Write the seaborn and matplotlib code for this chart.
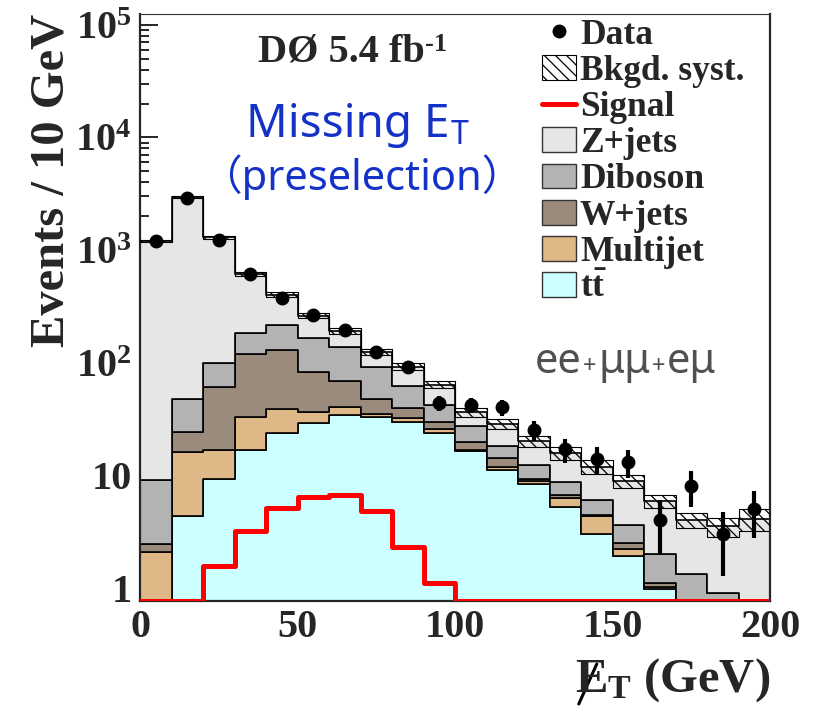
import numpy as np
import pandas as pd
import matplotlib
matplotlib.use('Agg')
import matplotlib.pyplot as plt
from matplotlib.patches import Patch
from matplotlib.lines import Line2D
import seaborn as sns

# binning (GeV) and yields per 10 GeV bin
met_edges = list(range(0, 210, 10))
processes = ['Z+jets', 'Diboson', 'W+jets', 'Multijet', 'ttbar']

zjets = [1200, 2900, 1200, 426, 187, 94, 55, 33, 30, 21.5,
         8.7, 10.3, 7.7, 7.0, 5.8, 5.2, 3.9, 2.7, 2.6, 4.1]
diboson = [6.6, 22.7, 38.6, 65, 85, 83, 67.5, 43.6, 22.4, 12.1,
           7.5, 4.0, 2.95, 2.1, 1.65, 1.1, 0.9, 1.32, 0.89, 0]
wjets = [0.4, 8.2, 44.3, 86.4, 90, 46.8, 28, 12.1, 7.7, 4.2,
         3.1, 2.2, 0.5, 0.4, 0.1, 0.3, 0.07, 0, 0, 0]
multijet = [2.06, 11.8, 7.5, 15.9, 15.2, 7.2, 6.3, 1.9, 2.5, 2.1,
            0.3, 0.7, 0.4, 1.0, 1.3, 0.3, 0.04, 0, 0, 0]
ttbar = [0, 4.3, 9.2, 16.7, 23.8, 28.8, 34.2, 33.0, 29.4, 23.5,
         16.4, 11.2, 8.4, 5.2, 3.0, 1.9, 0.98, 0, 0, 0]
signal = [0, 0, 1.55, 3.2, 5.1, 6.4, 6.7, 4.8, 2.3, 1.1,
          0, 0, 0, 0, 0, 0, 0, 0, 0, 0]
data_counts = [1200, 2920, 1230, 614, 376, 262, 195, 124, 91, 44,
               42, 40, 25, 17, 14, 13, 4, 8, 3, 5]
syst_frac = [0.02, 0.02, 0.03, 0.04, 0.05, 0.05, 0.06, 0.06, 0.07, 0.07,
             0.09, 0.10, 0.11, 0.13, 0.14, 0.13, 0.14, 0.15, 0.19, 0.22]

ytick_vals = [1, 10, 1e2, 1e3, 1e4, 1e5]
ytick_labels = ['1', '10', r'$\mathdefault{10^{2}}$', r'$\mathdefault{10^{3}}$',
                r'$\mathdefault{10^{4}}$', r'$\mathdefault{10^{5}}$']

colors = {'Z+jets': '#e6e6e6', 'Diboson': '#b3b3b3', 'W+jets': '#9b8b7c',
          'Multijet': '#deb887', 'ttbar': '#ccffff'}

sns.set_theme(style='ticks')
plt.rcParams['font.family'] = ['Liberation Serif', 'DejaVu Serif']
plt.rcParams['font.weight'] = 'bold'
plt.rcParams['axes.labelweight'] = 'bold'
plt.rcParams['mathtext.fontset'] = 'custom'
plt.rcParams['mathtext.rm'] = 'Liberation Serif:bold'
plt.rcParams['mathtext.it'] = 'Liberation Serif:bold'
plt.rcParams['mathtext.bf'] = 'Liberation Serif:bold'
plt.rcParams['hatch.linewidth'] = 0.9

edges = np.array(met_edges)
centers = edges[:-1] + 5
yields = {'Z+jets': zjets, 'Diboson': diboson, 'W+jets': wjets,
          'Multijet': multijet, 'ttbar': ttbar}
df = pd.concat([pd.DataFrame({'met': centers, 'events': yields[p], 'process': p})
                for p in processes], ignore_index=True)

ymin, ymax = 0.76, 1.25e5
W, H = 816, 707

fig = plt.figure(figsize=(W / 100, H / 100), dpi=100)
ax = fig.add_axes([140/W, 106/H, 630/W, 587/H])

# stacked backgrounds (last hue level ends up at the bottom)
sns.histplot(data=df, x='met', weights='events', hue='process', hue_order=processes,
             bins=met_edges, multiple='stack', element='step', fill=True,
             palette=colors, alpha=1, edgecolor='black', linewidth=1.2,
             legend=False, ax=ax)

# systematic band around the total
total = np.sum([yields[p] for p in processes], axis=0)
lo = np.append(total * (1 - np.array(syst_frac)), total[-1] * (1 - syst_frac[-1]))
hi = np.append(total * (1 + np.array(syst_frac)), total[-1] * (1 + syst_frac[-1]))
ax.fill_between(edges, lo, hi, step='post', facecolor='none',
                edgecolor='black', hatch='\\\\\\', linewidth=0.8, zorder=3)

# signal, clamped to the frame like ROOT does
sig_df = pd.DataFrame({'met': centers, 'events': np.clip(signal, ymin, None)})
sns.histplot(data=sig_df, x='met', weights='events', bins=met_edges, element='step',
             fill=False, color='red', linewidth=3.6, ax=ax, zorder=4)

# data
ax.errorbar(centers, data_counts, yerr=np.sqrt(data_counts), fmt='o',
            color='black', markersize=9, elinewidth=3, capsize=0, zorder=5)

ax.set_yscale('log')
ax.set_xlim(0, 200)
ax.set_ylim(ymin, ymax)
ax.set_yticks(ytick_vals)
ax.set_yticklabels(ytick_labels)
ax.set_xticks([0, 50, 100, 150, 200])
ax.set_xticks(np.arange(0, 201, 10), minor=True)
ax.tick_params(axis='both', which='both', direction='in', labelsize=29, width=1.4)
ax.tick_params(axis='both', which='major', length=13)
ax.tick_params(axis='both', which='minor', length=6.5)
ax.tick_params(axis='x', pad=6)
ax.tick_params(axis='y', pad=6)
for s in ['left', 'bottom', 'right']:
    ax.spines[s].set_linewidth(1.6)
ax.spines['top'].set_linewidth(0.8)
ax.spines['top'].set_color('#333333')
ax.set_xlabel('')
ax.set_ylabel('Events / 10 GeV', fontsize=35, loc='top', fontweight='bold')
ax.yaxis.set_label_coords(-0.106, 1.0)

# x title, with the missing-ET slash drawn over the E
xt = fig.text(770/W, 1 - 692/H, r'$E_T$ (GeV)', ha='right', va='baseline', fontsize=35)
fig.canvas.draw()
x0 = xt.get_window_extent().x0
fig.add_artist(Line2D([(x0 + 4) / W, (x0 + 22) / W], [(H - 704) / H, (H - 664) / H],
                      transform=fig.transFigure, color='black', linewidth=2.2))

# annotations
d1 = ax.text((258-140)/630, (601-62)/587, 'DØ 5.4 fb', transform=ax.transAxes,
             fontsize=29, ha='left', va='baseline')
ax.annotate('-1', xy=(1, 1), xycoords=d1, xytext=(0, 1), textcoords='offset points',
            fontsize=19, ha='left', va='top')

blue_kw = dict(color='#1432c8', fontweight='normal', family=['Noto Sans', 'DejaVu Sans'])
m1 = ax.text((246-140)/630, (601-137)/587, 'Missing E', transform=ax.transAxes,
             fontsize=33, ha='left', va='baseline', **blue_kw)
ax.annotate('T', xy=(1, 0), xycoords=m1, xytext=(1, -3), textcoords='offset points',
            fontsize=23, ha='left', va='bottom', **blue_kw)
ax.text((362-140)/630, (601-190)/587, '（preselection）', transform=ax.transAxes,
        fontsize=30, ha='center', va='baseline', color='#1432c8', fontweight='normal',
        family=['Noto Sans', 'Noto Sans CJK JP'])

chan_kw = dict(color='#505050', fontweight='normal', family=['Noto Sans', 'DejaVu Sans'])
t1 = ax.text((535-140)/630, (601-373)/587, 'ee', transform=ax.transAxes, fontsize=30,
             ha='left', va='baseline', **chan_kw)
t2 = ax.annotate('+', xy=(1, 0), xycoords=t1, xytext=(1, 3), textcoords='offset points',
                 fontsize=17, ha='left', va='bottom', **chan_kw)
t3 = ax.annotate('μμ', xy=(1, 0), xycoords=t2, xytext=(1, -3), textcoords='offset points',
                 fontsize=30, ha='left', va='bottom', **chan_kw)
t4 = ax.annotate('+', xy=(1, 0), xycoords=t3, xytext=(1, 3), textcoords='offset points',
                 fontsize=17, ha='left', va='bottom', **chan_kw)
ax.annotate('eμ', xy=(1, 0), xycoords=t4, xytext=(1, -3), textcoords='offset points',
            fontsize=30, ha='left', va='bottom', **chan_kw)

# legend
handles = [
    Line2D([], [], marker='o', color='black', linestyle='none', markersize=9),
    Patch(facecolor='white', edgecolor='black', hatch='\\\\\\', linewidth=0.8),
    Line2D([], [], color='red', linewidth=3.6),
]
for p in processes:
    handles.append(Patch(facecolor=colors[p], edgecolor='#333333', linewidth=1))
labels = ['Data', 'Bkgd. syst.', 'Signal', 'Z+jets', 'Diboson', 'W+jets', 'Multijet',
          r'$\mathbf{t\bar{t}}$']
ax.legend(handles, labels, loc='upper left', bbox_to_anchor=(524/W, 1 - 1/H),
          bbox_transform=fig.transFigure, frameon=False, fontsize=25.5, borderpad=0,
          handlelength=0.96, handleheight=0.7, handletextpad=0.12, labelspacing=0.09)

fig.savefig('out.png', dpi=100)
